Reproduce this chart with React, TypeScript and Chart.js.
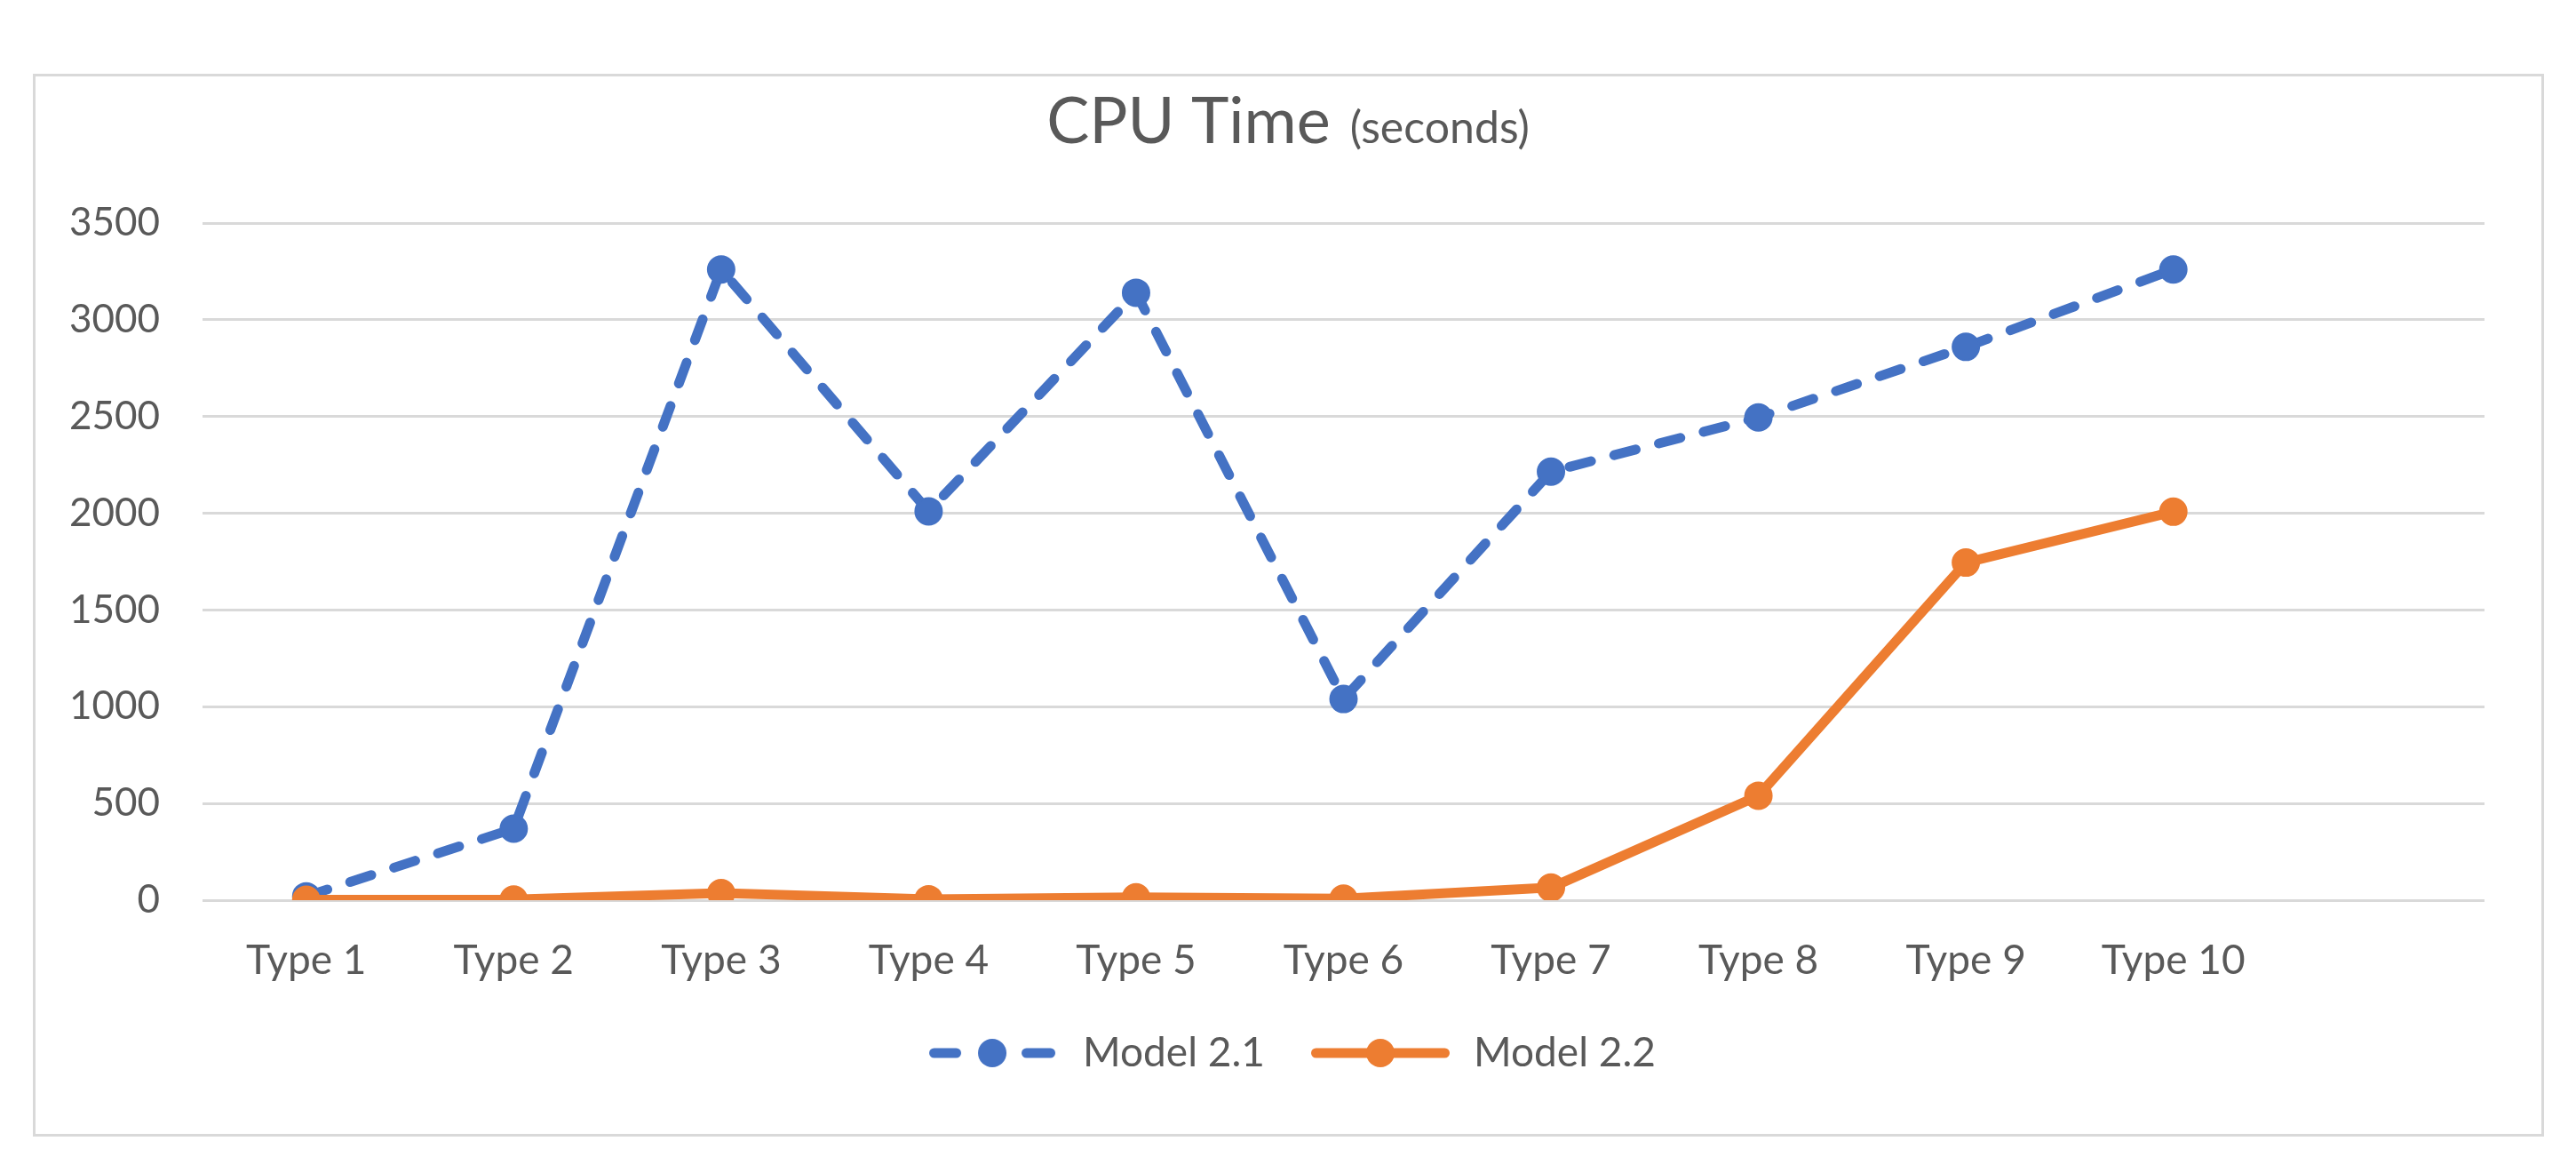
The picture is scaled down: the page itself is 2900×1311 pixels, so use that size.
import React, { useEffect, useRef } from 'react';
import { Chart, registerables } from 'chart.js';

Chart.register(...registerables);

// ---- data ----
const categories = ['Type 1', 'Type 2', 'Type 3', 'Type 4', 'Type 5', 'Type 6', 'Type 7', 'Type 8', 'Type 9', 'Type 10', ''];
const model21 = [20, 370, 3260, 2010, 3140, 1040, 2215, 2495, 2860, 3260];
const model22 = [2, 3, 37, 5, 15, 8, 65, 540, 1745, 2008];
const seriesNames = ['Model 2.1', 'Model 2.2'];
const titleMain = 'CPU Time';
const titleSub = '(seconds)';
const yMin = 0;
const yMax = 3500;
const yStep = 500;

const BLUE = '#4472C4';
const ORANGE = '#ED7D31';
const TEXT = '#595959';
const GRID = '#D9D9D9';
const FONT = 'Lato, "Open Sans", sans-serif';
const LINE_W = 11;

function makeLegendSymbol(color: string, dashed: boolean): HTMLCanvasElement {
  const c = document.createElement('canvas');
  c.width = 186;
  c.height = 40;
  const ctx = c.getContext('2d')!;
  ctx.strokeStyle = color;
  ctx.fillStyle = color;
  ctx.lineWidth = LINE_W;
  ctx.lineCap = 'round';
  const y = 20;
  const r = LINE_W / 2;
  let cx: number;
  if (dashed) {
    const x0 = 36;
    const x1 = 178;
    ctx.beginPath();
    ctx.moveTo(x0 + r, y);
    ctx.lineTo(x0 + 36 - r, y);
    ctx.stroke();
    ctx.beginPath();
    ctx.moveTo(x1 - 38 + r, y);
    ctx.lineTo(x1 - r, y);
    ctx.stroke();
    cx = (x0 + x1) / 2;
  } else {
    const x0 = 26;
    const x1 = 182;
    ctx.beginPath();
    ctx.moveTo(x0 + r, y);
    ctx.lineTo(x1 - r, y);
    ctx.stroke();
    cx = (x0 + x1) / 2;
  }
  ctx.beginPath();
  ctx.arc(cx, y, 16, 0, Math.PI * 2);
  ctx.fill();
  return c;
}

const titlePlugin = {
  id: 'cpuTitle',
  afterDraw(chart: any) {
    const ctx = chart.ctx as CanvasRenderingContext2D;
    ctx.save();
    ctx.fillStyle = TEXT;
    ctx.textBaseline = 'alphabetic';
    ctx.textAlign = 'left';
    ctx.font = `72px ${FONT}`;
    const w1 = ctx.measureText(titleMain).width;
    ctx.font = `50px ${FONT}`;
    const w2 = ctx.measureText(titleSub).width;
    const gap = 22;
    const total = w1 + gap + w2;
    const start = chart.width / 2 - total / 2;
    const baseline = 153;
    ctx.font = `72px ${FONT}`;
    ctx.fillText(titleMain, start, baseline);
    ctx.font = `50px ${FONT}`;
    ctx.fillText(titleSub, start + w1 + gap, baseline);
    ctx.restore();
  },
};

export default function App() {
  const canvasRef = useRef<HTMLCanvasElement | null>(null);

  useEffect(() => {
    if (!canvasRef.current) return;
    const symbols = [makeLegendSymbol(BLUE, true), makeLegendSymbol(ORANGE, false)];
    const chart = new Chart(canvasRef.current, {
      type: 'line',
      data: {
        labels: categories,
        datasets: [
          {
            label: seriesNames[0],
            data: model21,
            borderColor: BLUE,
            backgroundColor: BLUE,
            borderWidth: LINE_W,
            borderDash: [25, 27],
            borderCapStyle: 'round',
            borderJoinStyle: 'round',
            pointStyle: 'circle',
            pointRadius: 15,
            pointBorderWidth: 2,
            pointBackgroundColor: BLUE,
            pointBorderColor: BLUE,
            tension: 0,
            order: 1,
          },
          {
            label: seriesNames[1],
            data: model22,
            borderColor: ORANGE,
            backgroundColor: ORANGE,
            borderWidth: LINE_W,
            borderCapStyle: 'round',
            borderJoinStyle: 'round',
            pointStyle: 'circle',
            pointRadius: 15,
            pointBorderWidth: 2,
            pointBackgroundColor: ORANGE,
            pointBorderColor: ORANGE,
            tension: 0,
            order: 0,
          },
        ],
      },
      options: {
        animation: false,
        responsive: true,
        maintainAspectRatio: false,
        devicePixelRatio: 1,
        layout: { padding: { left: 69, right: 95, top: 243, bottom: 85 } },
        font: { family: FONT },
        scales: {
          x: {
            type: 'category',
            offset: true,
            grid: { display: false, drawTicks: false },
            border: { display: false },
            ticks: { color: TEXT, font: { family: FONT, size: 46 }, padding: 41, maxRotation: 0, autoSkip: false },
            afterFit: (scale: any) => { scale.height = 123; },
          },
          y: {
            min: yMin,
            max: yMax,
            grid: { color: GRID, lineWidth: 3, drawTicks: false },
            border: { display: false },
            ticks: {
              stepSize: yStep,
              color: TEXT,
              font: { family: FONT, size: 44 },
              padding: 48,
              callback: (v: any) => String(v),
            },
            afterFit: (scale: any) => { scale.width = 151; },
          },
        },
        plugins: {
          title: { display: false },
          tooltip: { enabled: false },
          legend: {
            display: true,
            position: 'bottom',
            labels: {
              usePointStyle: true,
              pointStyleWidth: 186,
              padding: 26,
              color: TEXT,
              font: { family: FONT, size: 46 },
              sort: (a: any, b: any) => a.datasetIndex - b.datasetIndex,
              generateLabels: (ch: any) => {
                const items = Chart.defaults.plugins.legend.labels.generateLabels(ch);
                return items
                  .map((it: any) => ({ ...it, pointStyle: symbols[it.datasetIndex] }))
                  .sort((a: any, b: any) => a.datasetIndex - b.datasetIndex);
              },
            },
          },
        },
      } as any,
      plugins: [titlePlugin],
    });
    return () => chart.destroy();
  }, []);

  return (
    <div style={{ position: 'relative', width: 2884, height: 1295 }}>
      <div
        style={{
          position: 'absolute',
          left: 29,
          top: 75,
          width: 2827,
          height: 1196,
          border: `3px solid ${GRID}`,
          boxSizing: 'border-box',
          pointerEvents: 'none',
        }}
      />
      <canvas ref={canvasRef} style={{ position: 'absolute', left: 0, top: 0 }} />
    </div>
  );
}
